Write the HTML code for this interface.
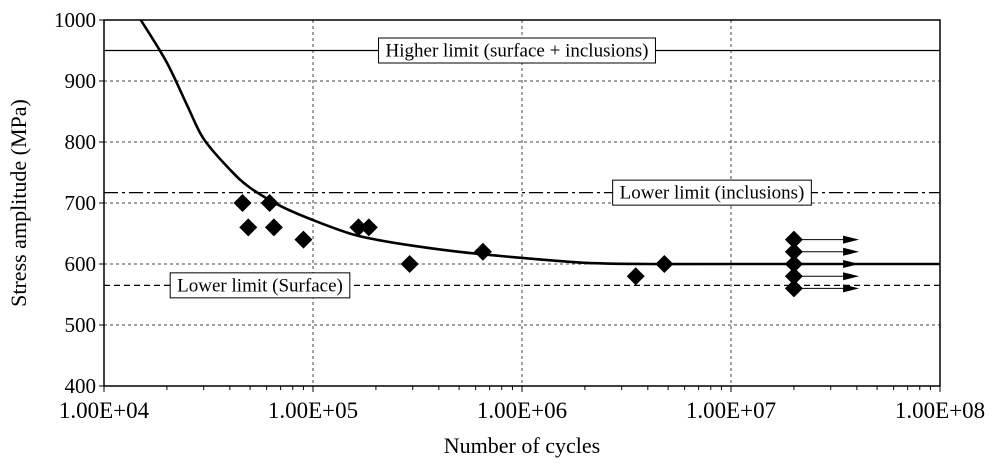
<!DOCTYPE html>
<html><head><meta charset="utf-8"><style>
body{margin:0;background:#fff}
svg text{font-family:"Liberation Serif",serif;fill:#000}
</style></head><body>
<svg id="c" width="1002" height="462"></svg>
<script>
const xTickLabels=["1.00E+04","1.00E+05","1.00E+06","1.00E+07","1.00E+08"];
const xTickVals=[1e4,1e5,1e6,1e7,1e8];
const yTicks=[400,500,600,700,800,900,1000];
const failN=[4.6e4,6.2e4,4.9e4,6.5e4,9e4,1.65e5,1.85e5,2.9e5,6.5e5,3.5e6,4.8e6];
const failS=[700,700,660,660,640,660,660,600,620,580,600];
const runN=[2e7,2e7,2e7,2e7,2e7];
const runS=[640,620,600,580,560];
const curveN=[1.5e4,2e4,2.5e4,3e4,4e4,5e4,7e4,1e5,1.5e5,2e5,3e5,5e5,1e6,2e6,4e6,1e7,1e8];
const curveS=[1000,930,860,805,755,725,695,672,650,640,630,620,610,602,600,600,600];
const limitVals=[950,717,565];
const limitLabels=["Higher limit (surface + inclusions)","Lower limit (inclusions)","Lower limit (Surface)"];
const L=104,R=940,T=20,B=386;
const X=n=>L+(Math.log10(n)-4)/4*(R-L);
const Y=s=>B-(s-400)/600*(B-T);
const svg=document.getElementById('c');
const NS='http://www.w3.org/2000/svg';
function el(t,a,p){const e=document.createElementNS(NS,t);for(const k in a)e.setAttribute(k,a[k]);(p||svg).appendChild(e);return e;}
yTicks.forEach(v=>{if(v>400&&v<1000){const g=el('line',{x1:L,x2:R,y1:Y(v),y2:Y(v),stroke:'#444','stroke-width':1,'stroke-dasharray':'3,3'});
}});
xTickVals.forEach((v,i)=>{if(i>0&&i<4){const g=el('line',{x1:X(v),x2:X(v),y1:T,y2:B,stroke:'#444','stroke-width':1,'stroke-dasharray':'3,3'});
}});
const dash=['none','14,4,3,4','6,4'];
const labX=[517,712,260];
limitVals.forEach((v,i)=>{const l=el('line',{x1:L,x2:R,y1:Y(v),y2:Y(v),stroke:'#000','stroke-width':1.2,'stroke-dasharray':dash[i]});

const t=el('text',{x:labX[i],y:Y(v)+6,'font-size':19,'text-anchor':'middle'});t.textContent=limitLabels[i];

const bb=t.getBBox();const r=el('rect',{x:bb.x-7,y:Y(v)-12.5,width:bb.width+14,height:25,fill:'#fff',stroke:'#000','stroke-width':1});
svg.insertBefore(r,t);});
const pts=curveN.map((n,i)=>[X(n),Y(curveS[i])]);
let d='M'+pts[0][0]+','+pts[0][1];
for(let i=1;i<pts.length;i++){const p0=pts[i-2]||pts[i-1],p1=pts[i-1],p2=pts[i],p3=pts[i+1]||p2;
d+=` C${p1[0]+(p2[0]-p0[0])/6},${p1[1]+(p2[1]-p0[1])/6} ${p2[0]-(p3[0]-p1[0])/6},${p2[1]-(p3[1]-p1[1])/6} ${p2[0]},${p2[1]}`;}
const c=el('path',{d:d,fill:'none',stroke:'#000','stroke-width':2.6});

function dia(x,y,name){const p=el('polygon',{points:`${x},${y-9} ${x+9},${y} ${x},${y+9} ${x-9},${y}`,fill:'#000'});
}
failN.forEach((n,i)=>dia(X(n),Y(failS[i]),'failure-point'));
runN.forEach((n,i)=>{const x=X(n),y=Y(runS[i]),xe=X(n*2.05);
const a=el('line',{x1:x,x2:xe-14,y1:y,y2:y,stroke:'#000','stroke-width':1});
const h=el('polygon',{points:`${xe-16},${y-4} ${xe},${y} ${xe-16},${y+4}`,fill:'#000'});
dia(x,y,'runout-point');});
const f=el('rect',{x:L,y:T,width:R-L,height:B-T,fill:'none',stroke:'#000','stroke-width':1.5});

yTicks.forEach(v=>{const tk=el('line',{x1:L-5,x2:L,y1:Y(v),y2:Y(v),stroke:'#000'});
const t=el('text',{x:L-8,y:Y(v)+7,'font-size':21,'text-anchor':'end'});t.textContent=v;});
for(let e=4;e<8;e++)for(let m=1;m<=10;m++){const x=X(m*Math.pow(10,e));const tk=el('line',{x1:x,x2:x,y1:B,y2:B+(m==1||m==10?6:4),stroke:'#000'});
}
xTickVals.forEach((v,i)=>{const t=el('text',{x:X(v),y:B+32,'font-size':23,'text-anchor':'middle'});t.textContent=xTickLabels[i];
});
const xt=el('text',{x:(L+R)/2,y:453,'font-size':22,'text-anchor':'middle'});xt.textContent='Number of cycles';

const yt=el('text',{x:0,y:0,'font-size':22,'text-anchor':'middle',transform:`translate(26,${(T+B)/2}) rotate(-90)`});yt.textContent='Stress amplitude (MPa)';

</script>
</body></html>
